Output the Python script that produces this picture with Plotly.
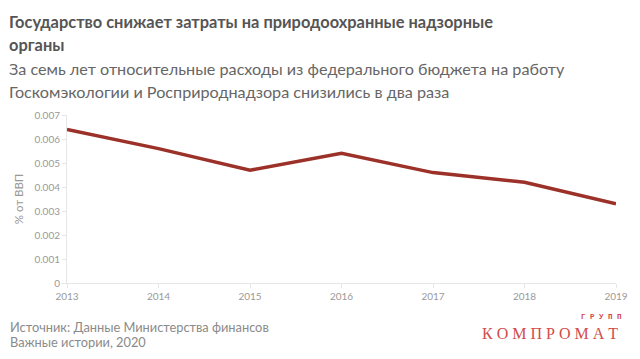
import plotly.graph_objects as go

years = [2013, 2014, 2015, 2016, 2017, 2018, 2019]
values = [0.0064, 0.0056, 0.0047, 0.0054, 0.0046, 0.0042, 0.0033]
y_ticks = [0, 0.001, 0.002, 0.003, 0.004, 0.005, 0.006, 0.007]

title_l1 = "Государство снижает затраты на природоохранные надзорные"
title_l2 = "органы"
sub_l1 = "За семь лет относительные расходы из федерального бюджета на работу"
sub_l2 = "Госкомэкологии и Росприроднадзора снизились в два раза"
source_l1 = "Источник: Данные Министерства финансов"
source_l2 = "Важные истории, 2020"
logo_main = "К О М П Р О М А Т"
logo_small = "Г Р У П П"

FONT = "Lato"
L, R = 67, 620
T, B = 115, 283
H = B - T

def py(p):
    return (B - p) / H

def px(p):
    return (p - L) / (R - L)

fig = go.Figure()
fig.add_trace(go.Scatter(
    x=years, y=values, mode="lines",
    line=dict(color="#9b3128", width=3.5),
    hoverinfo="skip", showlegend=False,
))

ann = []
def txt(s, x, y, size, color, bold=False, font=FONT, anchor="left"):
    ann.append(dict(
        text=f"<b>{s}</b>" if bold else s, xref="paper", yref="paper",
        x=px(x), y=py(y), xanchor=anchor, yanchor="middle", showarrow=False,
        font=dict(family=font, size=size, color=color),
    ))

txt(title_l1, 7, 21, 16.4, "#555555", bold=True)
txt(title_l2, 7, 45, 16.4, "#555555", bold=True)
txt(sub_l1, 7, 68, 16.2, "#666666")
txt(sub_l2, 7, 91, 16.2, "#666666")
txt(source_l1, 8, 327, 12.8, "#8a8a8a")
txt(source_l2, 8, 342, 12.8, "#8a8a8a")
txt(logo_main, 554, 333, 16, "#d24b4b", font="Liberation Serif", anchor="center")
txt(logo_small, 605, 317, 7.5, "#d24b4b", bold=True, font="Liberation Mono", anchor="center")

fig.update_layout(
    width=640, height=359,
    margin=dict(l=L, r=640 - R, t=T, b=359 - B),
    paper_bgcolor="white", plot_bgcolor="white",
    font=dict(family=FONT, color="#999999", size=10),
    annotations=ann,
    xaxis=dict(
        range=[2013, 2019], tickvals=years, ticktext=[str(y) for y in years],
        showgrid=False, zeroline=False, showline=True, linecolor="#e6e6e6",
        ticks="outside", ticklen=4, tickcolor="#e6e6e6",
        tickfont=dict(size=10, color="#999999"),
    ),
    yaxis=dict(
        range=[0, 0.007], tickvals=y_ticks,
        ticktext=[("%g" % v) if v else "0" for v in y_ticks],
        showgrid=False, zeroline=False, showline=True, linecolor="#e6e6e6",
        ticks="outside", ticklen=4, tickcolor="#e6e6e6",
        tickfont=dict(size=10, color="#999999"),
        title=dict(text="% от ВВП", font=dict(size=11.5, color="#999999"), standoff=8),
    ),
)

fig.write_html("out.html", config={"displayModeBar": False},
               post_script="document.body.style.margin='0';document.body.style.padding='0';")
